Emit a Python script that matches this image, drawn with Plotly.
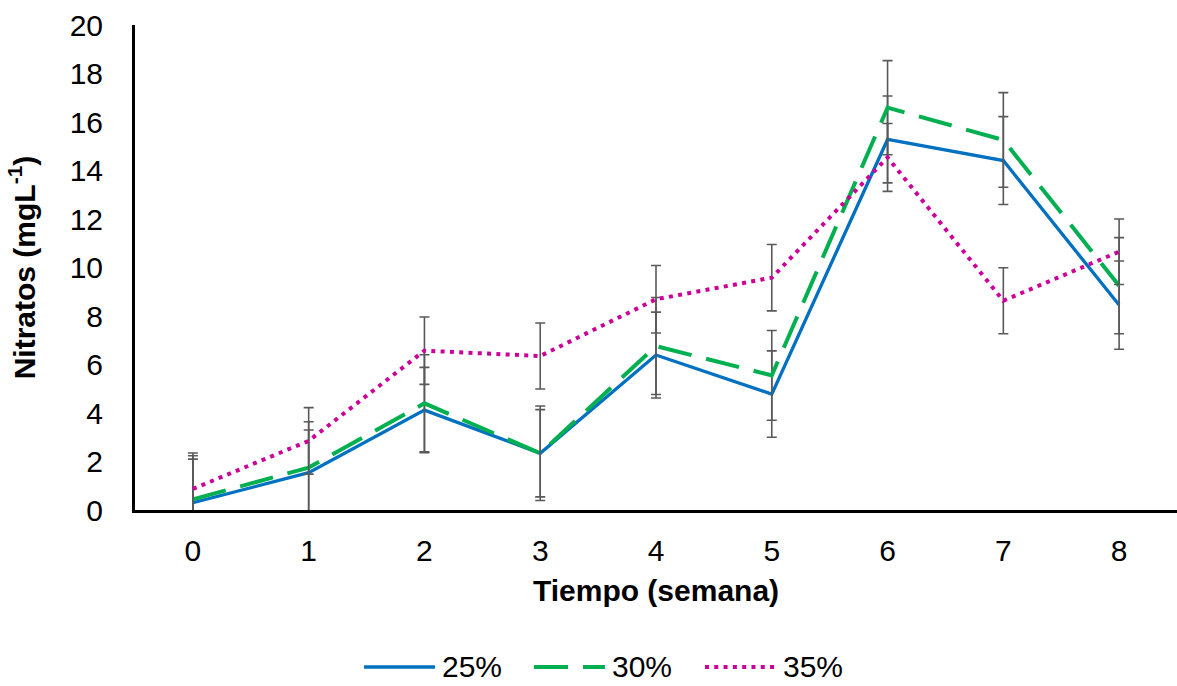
import plotly.graph_objects as go

# Semanas de muestreo
semanas = [0, 1, 2, 3, 4, 5, 6, 7, 8]

# Nitratos (mg/L) por tratamiento
nitratos_25 = [0.30, 1.54, 4.12, 2.34, 6.39, 4.78, 15.28, 14.41, 8.45]
nitratos_30 = [0.44, 1.75, 4.40, 2.34, 6.76, 5.55, 16.59, 15.26, 9.25]
nitratos_35 = [0.87, 2.85, 6.57, 6.35, 8.69, 9.58, 14.54, 8.63, 10.65]

# Desviación (barras de error)
error_25 = [1.80, 1.76, 1.76, 1.80, 1.77, 1.78, 1.79, 1.81, 1.82]
error_30 = [1.80, 1.89, 2.00, 1.95, 2.00, 1.85, 1.94, 1.95, 1.98]
error_35 = [1.48, 1.37, 1.39, 1.36, 1.39, 1.37, 1.40, 1.36, 1.35]

series_names = ["25%", "30%", "35%"]
y_ticks = [0, 2, 4, 6, 8, 10, 12, 14, 16, 18, 20]

FONT = "Liberation Sans, Arial, sans-serif"
FS = 30
ERR_COLOR = "#595959"

line_styles = [
    dict(color="#0070C0", width=3.3),
    dict(color="#00B050", width=4, dash="34px,15px"),
    dict(color="#CC0099", width=4, dash="4px,5.3px"),
]


def err(arr):
    return dict(type="data", array=arr, visible=True,
                color=ERR_COLOR, thickness=1.6, width=5)


fig = go.Figure()
for name, vals, errs, style in zip(series_names,
                                   [nitratos_25, nitratos_30, nitratos_35],
                                   [error_25, error_30, error_35],
                                   line_styles):
    fig.add_trace(go.Scatter(
        x=semanas, y=vals, name=name, mode="lines",
        line=style, error_y=err(errs), showlegend=False,
    ))

# Leyenda horizontal bajo el eje X (muestra de línea + etiqueta)
legend_y = -0.3237
legend_x0 = [0.2198, 0.3829, 0.5470]
sample_len = 0.0681
for name, style, x0 in zip(series_names, line_styles, legend_x0):
    fig.add_shape(type="line", xref="paper", yref="paper",
                  x0=x0, x1=x0 + sample_len, y0=legend_y, y1=legend_y,
                  line=style)
    fig.add_annotation(xref="paper", yref="paper",
                       x=x0 + sample_len + 0.005, y=legend_y,
                       xanchor="left", yanchor="middle", showarrow=False,
                       text=name, font=dict(size=FS, color="black"))

fig.update_layout(
    width=1177, height=686,
    margin=dict(l=135, r=0, t=25, b=176),
    paper_bgcolor="white", plot_bgcolor="white",
    font=dict(family=FONT, size=FS, color="black"),
    showlegend=False,
    xaxis=dict(
        range=[-0.5, 8.5], tickvals=semanas, ticktext=[str(s) for s in semanas],
        showgrid=False, zeroline=False, showline=True,
        linecolor="black", linewidth=3, ticks="",
        ticklabelstandoff=12,
        tickfont=dict(size=FS),
        title=dict(text="<b>Tiempo (semana)</b>", standoff=14,
                   font=dict(size=FS)),
    ),
    yaxis=dict(
        range=[0, 20], tickvals=y_ticks,
        showgrid=False, zeroline=False, showline=True,
        linecolor="black", linewidth=3, ticks="",
        ticklabelstandoff=23,
        tickfont=dict(size=FS),
        title=dict(text="<b>Nitratos (mgL<sup>-1</sup>)</b>", standoff=26,
                   font=dict(size=FS)),
    ),
)

fig.write_html("out.html")
